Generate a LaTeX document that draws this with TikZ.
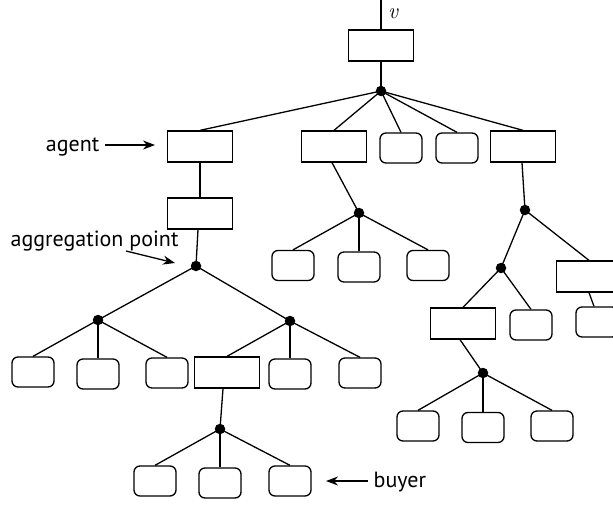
\documentclass[tikz,border=0pt]{standalone}
\usepackage{fontspec}
\setsansfont{PT Sans}
\usetikzlibrary{arrows.meta}
\begin{document}
\begin{tikzpicture}[x=1pt,y=-1pt,
  line width=1.3pt,
  rbox/.style={draw, rectangle, minimum width=65pt, minimum height=31pt, inner sep=0pt, line width=1.3pt},
  lbox/.style={draw, rectangle, rounded corners=6pt, minimum width=42pt, minimum height=30pt, inner sep=0pt, line width=1.3pt},
  dot/.style={circle, fill, inner sep=0pt, minimum size=10.5pt},
  lab/.style={font=\sffamily\fontsize{22}{22}\selectfont, inner sep=0pt},
  conn/.style={line width=1.3pt},
  arr/.style={-{Stealth[length=12pt,width=9pt]}, line width=1.3pt}]
\useasboundingbox (0,0) rectangle (613,506);
\clip (0,0) rectangle (613,506);

% root
\coordinate (vin) at (381,0);
\node[rbox] (top) at (381,45.5) {};
\node[anchor=base, inner sep=0pt, font=\itshape\fontsize{22}{22}\selectfont] (vlab) at (393,19) {v};
\node[dot] (root) at (381,91) {};

% level 1
\node[rbox] (agent) at (200,146.5) {};
\node[rbox] (b2) at (334,146.5) {};
\node[lbox] (r1) at (401,148) {};
\node[lbox] (r2) at (457,148) {};
\node[rbox] (b3) at (523,146.5) {};

% left subtree
\node[rbox] (a2) at (200,213.5) {};
\node[dot] (agg) at (196,266) {};
\node[dot] (dL) at (98,320) {};
\node[dot] (dR) at (290,321) {};
\node[lbox] (l1) at (33,372) {};
\node[lbox] (l2) at (98,374) {};
\node[lbox] (l3) at (167,373) {};
\node[rbox] (rm) at (227,372.5) {};
\node[lbox] (l4) at (290,374) {};
\node[lbox] (l5) at (360,373) {};
\node[dot] (dB) at (220,429) {};
\node[lbox] (bb1) at (155,481) {};
\node[lbox] (bb2) at (220,483) {};
\node[lbox] (bb3) at (290,481) {};

% middle subtree
\node[dot] (dM) at (359,213) {};
\node[lbox] (m1) at (293,265.5) {};
\node[lbox] (m2) at (359,267) {};
\node[lbox] (m3) at (428,265.5) {};

% right subtree
\node[dot] (dR1) at (525,210) {};
\node[dot] (dR2) at (501,268) {};
\node[rbox] (rc) at (589,276.5) {};
\node[lbox] (rr) at (597,322) {};
\node[rbox] (rb) at (463,323.5) {};
\node[lbox] (rr2) at (531,325) {};
\node[dot] (dR3) at (483,373) {};
\node[lbox] (q1) at (418,426) {};
\node[lbox] (q2) at (483,427.5) {};
\node[lbox] (q3) at (552,426) {};

% connectors
\draw[conn] (vin) -- (top.north);
\draw[conn] (top.south) -- (root.center);
\foreach \n in {agent,b2,r1,r2,b3} \draw[conn] (root.center) -- (\n.north);
\draw[conn] (agent.south) -- (a2.north);
\draw[conn] ([xshift=-2pt]a2.south) -- (agg.center);
\draw[conn] (agg.center) -- (dL.center);
\draw[conn] (agg.center) -- (dR.center);
\foreach \n in {l1,l2,l3} \draw[conn] (dL.center) -- (\n.north);
\foreach \n in {rm,l4,l5} \draw[conn] (dR.center) -- (\n.north);
\draw[conn] ([xshift=-4pt]rm.south) -- (dB.center);
\foreach \n in {bb1,bb2,bb3} \draw[conn] (dB.center) -- (\n.north);
\draw[conn] ([xshift=-2pt]b2.south) -- (dM.center);
\foreach \n in {m1,m2,m3} \draw[conn] (dM.center) -- (\n.north);
\draw[conn] ([xshift=-1pt]b3.south) -- (dR1.center);
\draw[conn] (dR1.center) -- (dR2.center);
\draw[conn] (dR1.center) -- (rc.north);
\draw[conn] (rc.south) -- ([xshift=-3pt]rr.north);
\draw[conn] (dR2.center) -- (rb.north);
\draw[conn] (dR2.center) -- (rr2.north);
\draw[conn] ([xshift=-3pt]rb.south) -- (dR3.center);
\foreach \n in {q1,q2,q3} \draw[conn] (dR3.center) -- (\n.north);

% labels
\node[lab, anchor=base east] (agentlab) at (100,151) {agent};
\coordinate (agentTail) at (105,145);
\coordinate (agentTip) at (155,145);
\draw[arr] (agentTail) -- (agentTip);

\node[lab, anchor=base west] (agglab) at (10,246) {aggregation point};
\coordinate (aggTail) at (126,251);
\coordinate (aggTip) at (175,263);
\draw[arr] (aggTail) -- (aggTip);

\node[lab, anchor=base west] (buyerlab) at (373,487) {buyer};
\coordinate (buyerTail) at (368,481);
\coordinate (buyerTip) at (326,481);
\draw[arr] (buyerTail) -- (buyerTip);
\end{tikzpicture}
\end{document}
